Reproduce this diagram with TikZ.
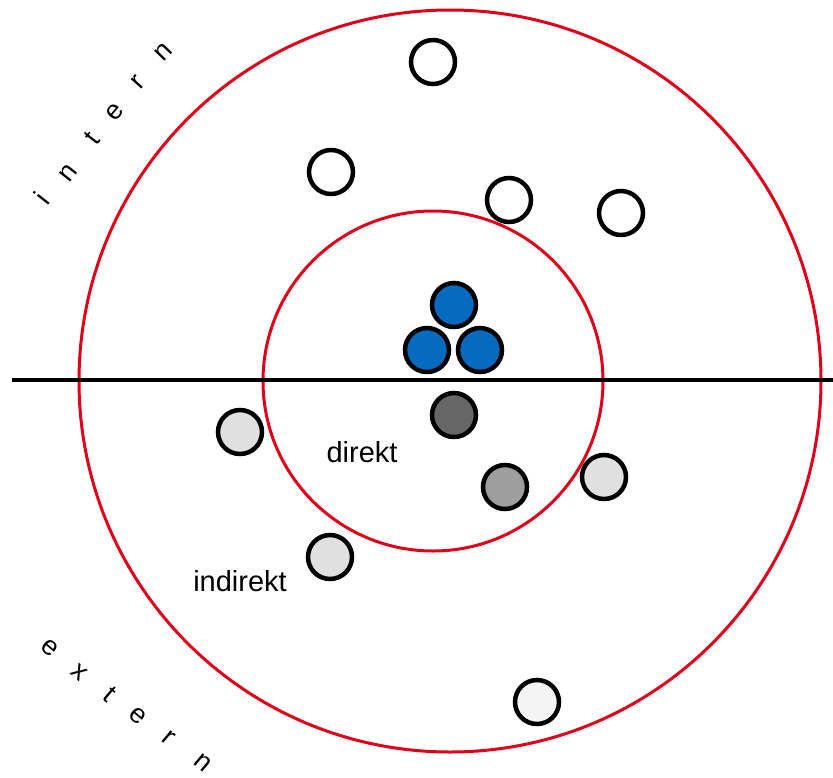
\documentclass[tikz,border=0pt]{standalone}
\usepackage{fontspec}
\setmainfont{Liberation Sans}
\definecolor{ringred}{RGB}{224,0,26}
\definecolor{dotblue}{RGB}{6,106,190}
\definecolor{gdark}{RGB}{102,102,102}
\definecolor{gmid}{RGB}{158,158,158}
\definecolor{glight}{RGB}{224,224,224}
\definecolor{gpale}{RGB}{244,244,244}
\tikzset{
  dot/.style={circle,draw=black,line width=4.5pt,minimum size=44pt,inner sep=0pt,fill=#1},
  ring/.style={draw=ringred,line width=3pt},
  lbl/.style={font=\fontsize{29}{34}\selectfont,inner sep=0pt},
  arcl/.style={font=\fontsize{27}{32}\selectfont,inner sep=0pt,anchor=center},
}
\begin{document}
\begin{tikzpicture}[x=1pt,y=-1pt]
\useasboundingbox (0,0) rectangle (833,777);
\coordinate (c) at (450,381);
\coordinate (ci) at (433,381);
\draw[ring] (c) circle[radius=371pt];
\draw[ring] (ci) circle[radius=170pt];
\coordinate (l) at (12,380);
\coordinate (r) at (833,380);
\draw[line width=3.5pt] (l) -- (r);
% white
\node[dot=white] (w1) at (433,62) {};
\node[dot=white] (w2) at (331,172) {};
\node[dot=white] (w3) at (509,200) {};
\node[dot=white] (w4) at (621,213) {};
% blue
\node[dot=dotblue] (b1) at (454,305) {};
\node[dot=dotblue] (b2) at (427,350) {};
\node[dot=dotblue] (b3) at (480,350) {};
% greys
\node[dot=gdark] (g1) at (454,415) {};
\node[dot=gmid] (g2) at (505,487) {};
\node[dot=glight] (g3) at (240,432) {};
\node[dot=glight] (g4) at (604,477) {};
\node[dot=glight] (g5) at (330,557) {};
\node[dot=gpale] (g6) at (537,702) {};
% labels
\node[lbl,anchor=base] (direkt) at (362,462) {direkt};
\node[lbl,anchor=base] (indirekt) at (240,591) {indirekt};
% intern
\node[arcl,rotate=52] (i1) at (42,198) {i};
\node[arcl,rotate=52] (i2) at (68,173) {n};
\node[arcl,rotate=52] (i3) at (92,138) {t};
\node[arcl,rotate=50] (i4) at (115,112) {e};
\node[arcl,rotate=48] (i5) at (138,82) {r};
\node[arcl,rotate=46] (i6) at (163,52) {n};
% extern
\node[arcl,rotate=-40] (e1) at (50,648) {e};
\node[arcl,rotate=-40] (e2) at (79,672) {x};
\node[arcl,rotate=-40] (e3) at (110,694) {t};
\node[arcl,rotate=-40] (e4) at (138,716) {e};
\node[arcl,rotate=-40] (e5) at (169,738) {r};
\node[arcl,rotate=-40] (e6) at (203,763) {n};
\end{tikzpicture}
\end{document}
